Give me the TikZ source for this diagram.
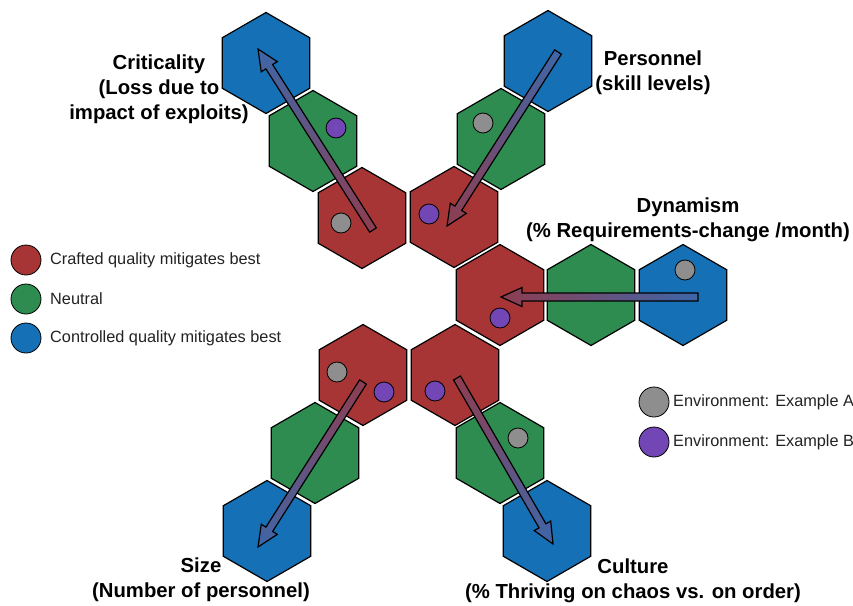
\documentclass[tikz,border=0pt]{standalone}
\usepackage{fontspec}
\setmainfont{Liberation Sans}
\usetikzlibrary{shapes.geometric,calc}

\definecolor{hexred}{HTML}{A83535}
\definecolor{hexgreen}{HTML}{2E8C50}
\definecolor{hexblue}{HTML}{1570B6}
\definecolor{arrred}{HTML}{8E3D50}
\definecolor{arrblue}{HTML}{3E66A8}
\definecolor{envA}{HTML}{8E8E8E}
\definecolor{envB}{HTML}{7246B4}
\definecolor{legtext}{HTML}{222222}

\tikzset{
  hexa/.style={regular polygon, regular polygon sides=6, shape border rotate=30,
    minimum size=101pt, inner sep=0pt, outer sep=0pt, draw=black, line width=1.2pt},
  hred/.style={hexa, fill=hexred},
  hgreen/.style={hexa, fill=hexgreen},
  hblue/.style={hexa, fill=hexblue},
  dot/.style={circle, minimum size=20pt, inner sep=0pt, draw=black, line width=0.8pt},
  dotA/.style={dot, fill=envA},
  dotB/.style={dot, fill=envB},
  legdot/.style={circle, minimum size=30pt, inner sep=0pt, draw=black, line width=0.8pt},
  legtxt/.style={anchor=west, inner sep=0pt, text=legtext, font=\fontsize{16.3}{19}\selectfont},
  title/.style={align=center, inner sep=0pt, font=\fontsize{20.3}{25}\selectfont\bfseries},
  fatarrow/.style={draw=black, line width=1.2pt},
}

% block arrow from tail #2 to tip #3; #1 names the head base, #4 the shading
\newcommand\blockarrow[4]{%
  \coordinate (#1) at ($(#3)!21pt!(#2)$);
  \path[fatarrow, #4]
    ($(#2)!4pt!90:(#3)$) -- ($(#1)!4pt!90:(#3)$) -- ($(#1)!9.5pt!90:(#3)$) -- (#3)
    -- ($(#1)!9.5pt!-90:(#3)$) -- ($(#1)!4pt!-90:(#3)$) -- ($(#2)!4pt!-90:(#3)$) -- cycle;
}

\begin{document}
\begin{tikzpicture}[x=1pt, y=-1pt]
\useasboundingbox (0,0) rectangle (853,605);

% criticality arm
\node[hblue]  (critC) at (266,63)  {};
\node[hgreen] (critN) at (313,141) {};
\node[hred]   (critR) at (362,218) {};
% personnel arm
\node[hblue]  (persC) at (548,61)  {};
\node[hgreen] (persN) at (501,139) {};
\node[hred]   (persR) at (454,217) {};
% dynamism arm
\node[hred]   (dynR) at (500,295) {};
\node[hgreen] (dynN) at (591,295) {};
\node[hblue]  (dynC) at (683,295) {};
% size arm
\node[hred]   (sizeR) at (363,375) {};
\node[hgreen] (sizeN) at (315,453) {};
\node[hblue]  (sizeC) at (267,531) {};
% culture arm
\node[hred]   (cultR) at (455,375) {};
\node[hgreen] (cultN) at (500,453) {};
\node[hblue]  (cultC) at (547,531) {};

% environment markers
\node[dotB] (critB) at (336,128) {};
\node[dotA] (critA) at (341,223) {};
\node[dotA] (persA) at (483,123) {};
\node[dotB] (persB) at (429,214) {};
\node[dotA] (dynA)  at (685,270) {};
\node[dotB] (dynB)  at (500,318) {};
\node[dotA] (sizeA) at (337,372) {};
\node[dotB] (sizeB) at (384,392) {};
\node[dotB] (cultB) at (435,391) {};
\node[dotA] (cultA) at (518,438) {};

% arrows
\coordinate (critT0) at (373,230); \coordinate (critT1) at (258,49);
\coordinate (persT0) at (558,52);  \coordinate (persT1) at (447,226);
\coordinate (dynT0)  at (698,297); \coordinate (dynT1)  at (501,297);
\coordinate (sizeT0) at (363,382); \coordinate (sizeT1) at (258,547);
\coordinate (cultT0) at (457,378); \coordinate (cultT1) at (553,544);
\blockarrow{critH}{critT0}{critT1}{top color=arrblue, bottom color=arrred}
\blockarrow{persH}{persT0}{persT1}{top color=arrblue, bottom color=arrred}
\blockarrow{dynH}{dynT0}{dynT1}{left color=arrred, right color=arrblue}
\blockarrow{sizeH}{sizeT0}{sizeT1}{top color=arrred, bottom color=arrblue}
\blockarrow{cultH}{cultT0}{cultT1}{top color=arrred, bottom color=arrblue}

% factor titles
\node[title] (critL) at (159,89)  {Criticality\\(Loss due to\\impact of exploits)};
\node[title] (persL) at (653,73)  {Personnel\\(skill levels)};
\node[title] (dynL)  at (688,220) {Dynamism\\(\% Requirements-change /month)};
\node[title] (sizeL) at (201,580) {Size\\(Number of personnel)};
\node[title] (cultL) at (633,581) {Culture\\(\% Thriving on chaos vs. on order)};

% legend: hexagon colours
\node[legdot, fill=hexred]   (legR) at (26,260) {};
\node[legdot, fill=hexgreen] (legN) at (26,299) {};
\node[legdot, fill=hexblue]  (legC) at (26,338) {};
\node[legtxt] (legRt) at (50,260) {Crafted quality mitigates best};
\node[legtxt] (legNt) at (50,299) {Neutral};
\node[legtxt] (legCt) at (50,338) {Controlled quality mitigates best};

% legend: environments
\node[legdot, fill=envA] (legA) at (654,402) {};
\node[legdot, fill=envB] (legB) at (654,442) {};
\node[legtxt] (legAt) at (673,402) {Environment: Example A};
\node[legtxt] (legBt) at (673,442) {Environment: Example B};
\end{tikzpicture}
\end{document}
